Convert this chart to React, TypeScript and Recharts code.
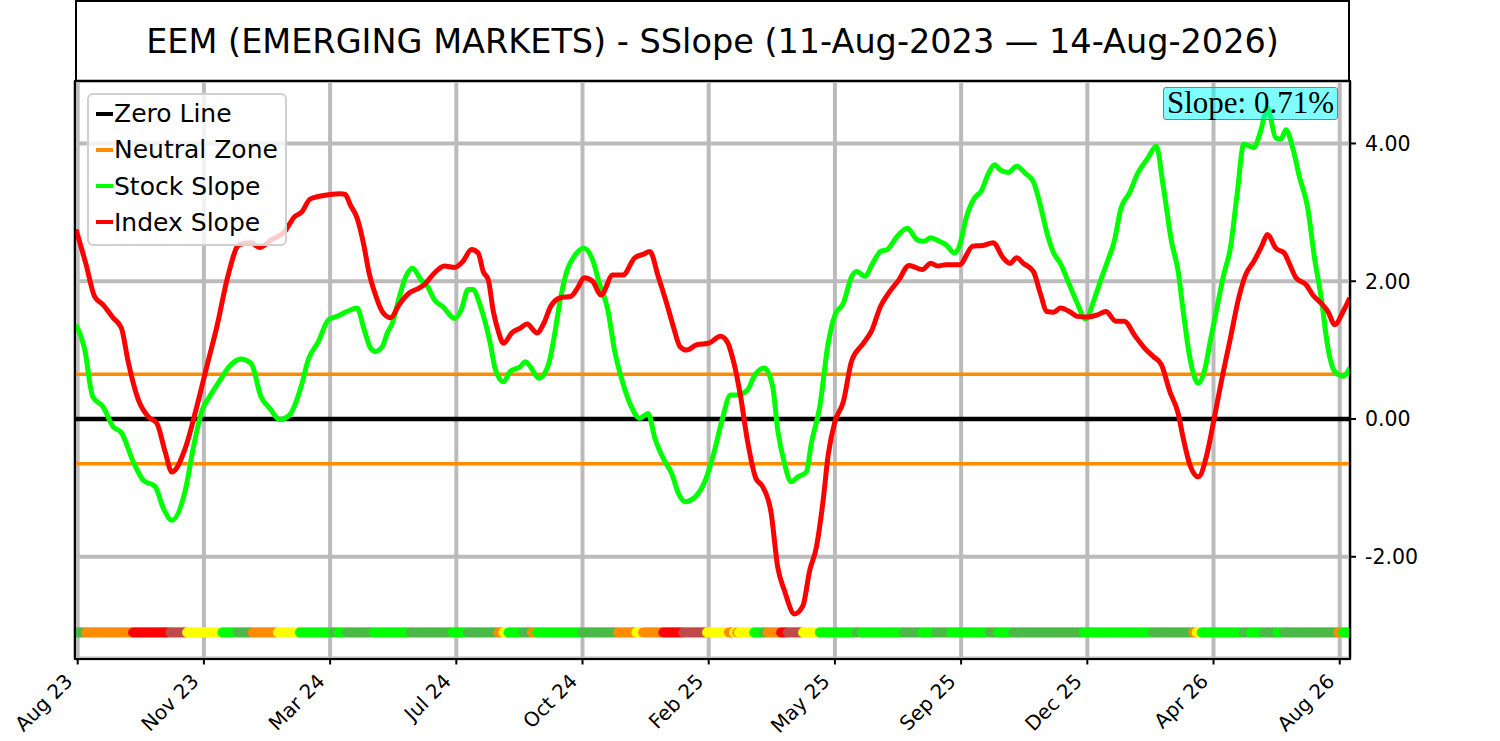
import React from "react"
import {
  ComposedChart,
  Line,
  Scatter,
  XAxis,
  YAxis,
  CartesianGrid,
  ReferenceLine,
} from "recharts"

// trading-day index of each date tick
const tickDays = [0, 75, 150, 225, 300, 375, 450, 525, 600, 675, 750]
const tickLabels = ["Aug 23", "Nov 23", "Mar 24", "Jul 24", "Oct 24", "Feb 25", "May 25", "Sep 25", "Dec 25", "Apr 26", "Aug 26"]
const yTicks = [-2, 0, 2, 4]
const neutralBand = 0.65
const bandLevel = -3.1
const currentSlope = "0.71%"

// [trading day, slope]
const stockSlope: [number, number][] = [
  [-1, 1.37], [4, 1.03], [9, 0.32], [15, 0.18], [21, -0.11], [26, -0.2], [33, -0.62], [39, -0.89], [46, -0.98], [51, -1.3],
  [56, -1.47], [64, -1.03], [69, -0.38], [74, 0.13], [78, 0.31], [84, 0.54], [90, 0.76], [97, 0.87], [103, 0.81], [109, 0.32],
  [114, 0.16], [120, -0.01], [126, 0.06], [133, 0.49], [137, 0.86], [143, 1.12], [149, 1.44], [154, 1.49], [160, 1.56], [166, 1.61],
  [170, 1.32], [174, 1.03], [177, 0.98], [181, 1.05], [184, 1.25], [187, 1.39], [191, 1.76], [195, 2.07], [199, 2.19], [204, 2.02],
  [208, 1.92], [212, 1.73], [217, 1.63], [224, 1.46], [228, 1.59], [232, 1.88], [235, 1.88], [239, 1.66], [242, 1.42], [245, 1.12],
  [248, 0.74], [253, 0.54], [257, 0.69], [263, 0.76], [266, 0.83], [269, 0.76], [274, 0.59], [280, 0.81], [283, 1.17], [287, 1.76],
  [291, 2.17], [295, 2.36], [301, 2.48], [306, 2.31], [310, 1.97], [315, 1.59], [319, 1.0], [324, 0.52], [329, 0.18], [334, 0.01],
  [339, 0.08], [343, -0.28], [349, -0.62], [353, -0.79], [357, -1.08], [361, -1.2], [367, -1.13], [373, -0.89], [378, -0.5], [383, -0.01],
  [388, 0.35], [392, 0.35], [398, 0.42], [402, 0.62], [408, 0.74], [413, 0.47], [416, -0.16], [420, -0.64], [424, -0.91], [428, -0.84],
  [433, -0.77], [436, -0.35], [441, 0.18], [446, 1.1], [450, 1.51], [455, 1.68], [460, 2.07], [463, 2.14], [468, 2.07], [472, 2.24],
  [477, 2.43], [481, 2.46], [487, 2.65], [493, 2.77], [499, 2.6], [503, 2.58], [507, 2.63], [512, 2.58], [516, 2.53], [521, 2.41],
  [524, 2.51], [528, 2.92], [533, 3.21], [537, 3.31], [541, 3.55], [545, 3.69], [548, 3.62], [553, 3.58], [558, 3.67], [563, 3.57],
  [568, 3.44], [572, 3.11], [576, 2.7], [580, 2.41], [584, 2.26], [589, 1.97], [594, 1.68], [599, 1.45], [604, 1.73], [608, 2.02],
  [612, 2.29], [616, 2.58], [620, 3.06], [625, 3.28], [630, 3.57], [636, 3.79], [641, 3.96], [645, 3.4], [650, 2.58], [654, 2.14],
  [657, 1.56], [661, 0.88], [666, 0.52], [670, 0.74], [673, 1.12], [677, 1.61], [681, 2.09], [685, 2.48], [689, 3.26], [693, 3.99],
  [699, 3.94], [703, 4.18], [707, 4.52], [712, 4.08], [715, 4.06], [718, 4.2], [722, 3.94], [726, 3.52], [731, 3.06], [735, 2.34],
  [739, 1.76], [743, 1.03], [747, 0.69], [752, 0.62], [756, 0.74],
]

const indexSlope: [number, number][] = [
  [-1, 2.75], [5, 2.24], [10, 1.78], [15, 1.66], [21, 1.47], [26, 1.32], [30, 0.83], [36, 0.28], [42, 0.03], [47, -0.06],
  [52, -0.48], [56, -0.77], [64, -0.42], [71, 0.2], [77, 0.79], [83, 1.37], [89, 2.05], [96, 2.53], [103, 2.56], [108, 2.49],
  [115, 2.6], [123, 2.72], [129, 2.94], [133, 3.0], [138, 3.19], [143, 3.23], [150, 3.26], [156, 3.27], [159, 3.26], [162, 3.11],
  [166, 2.92], [170, 2.53], [173, 2.14], [177, 1.8], [181, 1.56], [186, 1.47], [191, 1.66], [197, 1.83], [202, 1.89], [206, 1.95],
  [212, 2.12], [218, 2.22], [224, 2.2], [229, 2.29], [234, 2.46], [238, 2.41], [241, 2.14], [244, 2.02], [247, 1.56], [250, 1.27],
  [253, 1.1], [258, 1.25], [263, 1.32], [267, 1.38], [273, 1.25], [277, 1.39], [281, 1.63], [287, 1.76], [293, 1.78], [297, 1.9],
  [301, 2.05], [306, 2.0], [311, 1.8], [318, 2.09], [324, 2.09], [331, 2.34], [336, 2.39], [340, 2.43], [345, 2.07], [350, 1.68],
  [354, 1.34], [358, 1.05], [362, 1.0], [368, 1.08], [375, 1.1], [382, 1.2], [386, 1.12], [390, 0.81], [394, 0.32], [398, -0.31],
  [403, -0.86], [407, -0.98], [412, -1.35], [416, -2.15], [420, -2.49], [426, -2.83], [431, -2.71], [435, -2.2], [439, -1.86], [443, -1.18],
  [446, -0.52], [450, -0.04], [455, 0.25], [460, 0.85], [467, 1.1], [472, 1.29], [477, 1.63], [482, 1.83], [488, 2.02], [494, 2.23],
  [502, 2.17], [507, 2.26], [511, 2.22], [516, 2.24], [524, 2.24], [532, 2.51], [538, 2.52], [544, 2.56], [550, 2.34], [554, 2.26],
  [558, 2.34], [562, 2.26], [568, 2.14], [572, 1.83], [576, 1.56], [580, 1.55], [584, 1.61], [590, 1.55], [594, 1.49], [600, 1.48],
  [606, 1.51], [611, 1.56], [617, 1.42], [622, 1.42], [628, 1.22], [634, 1.03], [639, 0.91], [644, 0.79], [649, 0.4], [654, 0.08],
  [657, -0.28], [661, -0.67], [666, -0.84], [671, -0.52], [675, -0.04], [680, 0.59], [685, 1.17], [690, 1.76], [694, 2.09], [699, 2.29],
  [704, 2.53], [707, 2.68], [712, 2.48], [717, 2.41], [720, 2.26], [724, 2.05], [730, 1.95], [734, 1.8], [739, 1.68], [743, 1.56],
  [747, 1.37], [752, 1.56], [756, 1.76],
]

// regime strip: [state, first day, day after last]
const regimeRuns: [string, number, number][] = [
  ["dark", 0, 5], ["orange", 5, 33], ["red", 33, 55], ["brown", 55, 65], ["yellow", 65, 86], ["lime", 86, 95],
  ["dark", 95, 104], ["orange", 104, 119], ["yellow", 119, 132], ["lime", 132, 152], ["dark", 152, 155], ["lime", 155, 160],
  ["dark", 160, 176], ["lime", 176, 198], ["dark", 198, 223], ["lime", 223, 232], ["dark", 232, 250], ["orange", 250, 253],
  ["yellow", 253, 256], ["lime", 256, 265], ["dark", 265, 270], ["orange", 270, 273], ["lime", 273, 300], ["dark", 300, 321],
  ["orange", 321, 332], ["yellow", 332, 336], ["orange", 336, 348], ["red", 348, 360], ["brown", 360, 374], ["yellow", 374, 387],
  ["orange", 387, 390], ["yellow", 390, 392], ["orange", 392, 393], ["yellow", 393, 402], ["lime", 402, 408], ["dark", 408, 410],
  ["orange", 410, 418], ["red", 418, 422], ["brown", 422, 431], ["yellow", 431, 441], ["lime", 441, 463], ["dark", 463, 466],
  ["lime", 466, 491], ["dark", 491, 502], ["lime", 502, 510], ["dark", 510, 519], ["lime", 519, 542], ["dark", 542, 547],
  ["lime", 547, 556], ["dark", 556, 598], ["lime", 598, 639], ["dark", 639, 663], ["orange", 663, 665], ["yellow", 665, 668],
  ["lime", 668, 693], ["dark", 693, 697], ["lime", 697, 705], ["dark", 705, 713], ["lime", 713, 717], ["dark", 717, 749],
  ["orange", 749, 752], ["lime", 752, 757],
]

const regimeColors: Record<string, string> = {
  lime: "#00ff00",
  dark: "#4cb848",
  orange: "#ff8c00",
  yellow: "#ffff00",
  red: "#ff0000",
  brown: "#c04a4a",
}

const stockData = stockSlope.map(([day, v]) => ({ day, v }))
const indexData = indexSlope.map(([day, v]) => ({ day, v }))
const bandDots: { day: number; v: number; color: string }[] = []
regimeRuns.forEach(([state, from, to]) => {
  for (let d = from; d < to; d++) bandDots.push({ day: d, v: bandLevel, color: regimeColors[state] })
})

const font = "DejaVu Sans, sans-serif"

const legendItems = [
  { label: "Zero Line", color: "#000000" },
  { label: "Neutral Zone", color: "#ff8c00" },
  { label: "Stock Slope", color: "#00ff00" },
  { label: "Index Slope", color: "#ff0000" },
]

function DateTick(props: any) {
  const { x, y, payload } = props
  const i = tickDays.indexOf(payload.value)
  return (
    <text
      transform={`translate(${x - 4},${y + 16}) rotate(-45)`}
      textAnchor="end"
      fontSize={20}
      fontFamily={font}
      fill="#000"
    >
      {tickLabels[i]}
    </text>
  )
}

export default function App() {
  return (
    <div style={{ position: "absolute", left: 0, top: 0, width: 1500, height: 741, background: "#fff" }}>
      <ComposedChart width={1500} height={741} margin={{ top: 81, left: 75, right: 0, bottom: 0 }}>
        <CartesianGrid stroke="#bbbbbb" strokeWidth={4} />
        <XAxis
          dataKey="day"
          type="number"
          domain={[-1.6, 756.1]}
          ticks={tickDays}
          interval={0}
          allowDataOverflow
          height={82.5}
          axisLine={false}
          tickSize={6}
          tickLine={{ stroke: "#000", strokeWidth: 2 }}
          tick={<DateTick />}
        />
        <YAxis
          orientation="right"
          type="number"
          domain={[-3.477, 4.907]}
          ticks={yTicks}
          allowDataOverflow
          width={150}
          axisLine={false}
          tickSize={6}
          tickMargin={9}
          tickLine={{ stroke: "#000", strokeWidth: 2 }}
          tick={{ fill: "#000", fontSize: 20.5, fontFamily: font }}
          tickFormatter={(v: number) => v.toFixed(2)}
        />
        <ReferenceLine y={0} stroke="#000" strokeWidth={4.5} />
        <ReferenceLine y={neutralBand} stroke="#ff8c00" strokeWidth={3.6} />
        <ReferenceLine y={-neutralBand} stroke="#ff8c00" strokeWidth={3.6} />
        <Line data={stockData} dataKey="v" type="monotone" stroke="#00ff00" strokeWidth={5} dot={false} isAnimationActive={false} />
        <Line data={indexData} dataKey="v" type="monotone" stroke="#ff0000" strokeWidth={5} dot={false} isAnimationActive={false} />
        <Scatter
          data={bandDots}
          dataKey="v"
          isAnimationActive={false}
          shape={(p: any) => <circle cx={p.cx} cy={p.cy} r={5} fill={p.payload.color} />}
        />
      </ComposedChart>

      {/* title panel */}
      <div
        style={{
          position: "absolute", left: 75, top: 0, width: 1275, height: 82, boxSizing: "border-box",
          border: "2px solid #000", display: "flex", alignItems: "center", justifyContent: "center",
          fontFamily: font, fontSize: 33.5, color: "#000",
        }}
      >
        EEM (EMERGING MARKETS) - SSlope (11-Aug-2023 — 14-Aug-2026)
      </div>

      {/* plot frame */}
      <div
        style={{
          position: "absolute", left: 74, top: 80, width: 1277, height: 579.5, boxSizing: "border-box",
          border: "2px solid #000", pointerEvents: "none",
        }}
      />

      {/* legend */}
      <div
        style={{
          position: "absolute", left: 87, top: 93, width: 200, height: 153, boxSizing: "border-box",
          border: "2px solid #d0d0d0", borderRadius: 6, background: "rgba(255,255,255,0.8)",
          fontFamily: font, fontSize: 25, color: "#000",
        }}
      >
        {legendItems.map((it, i) => (
          <div key={it.label} style={{ position: "absolute", left: 0, top: 2.5 + i * 36.3, height: 32, display: "flex", alignItems: "center" }}>
            <div style={{ marginLeft: 7, width: 17, height: 4, background: it.color }} />
            <span style={{ marginLeft: 1, whiteSpace: "nowrap" }}>{it.label}</span>
          </div>
        ))}
      </div>

      {/* current slope badge */}
      <div
        style={{
          position: "absolute", left: 1163, top: 86.5, width: 175, height: 33, boxSizing: "border-box",
          border: "1.5px solid #b06a6a", borderRadius: 3, background: "rgba(0,255,255,0.5)",
          display: "flex", alignItems: "center", justifyContent: "center",
          fontFamily: "Liberation Serif, serif", fontSize: 31, color: "#000", whiteSpace: "nowrap",
        }}
      >
        Slope: {currentSlope}
      </div>
    </div>
  )
}
